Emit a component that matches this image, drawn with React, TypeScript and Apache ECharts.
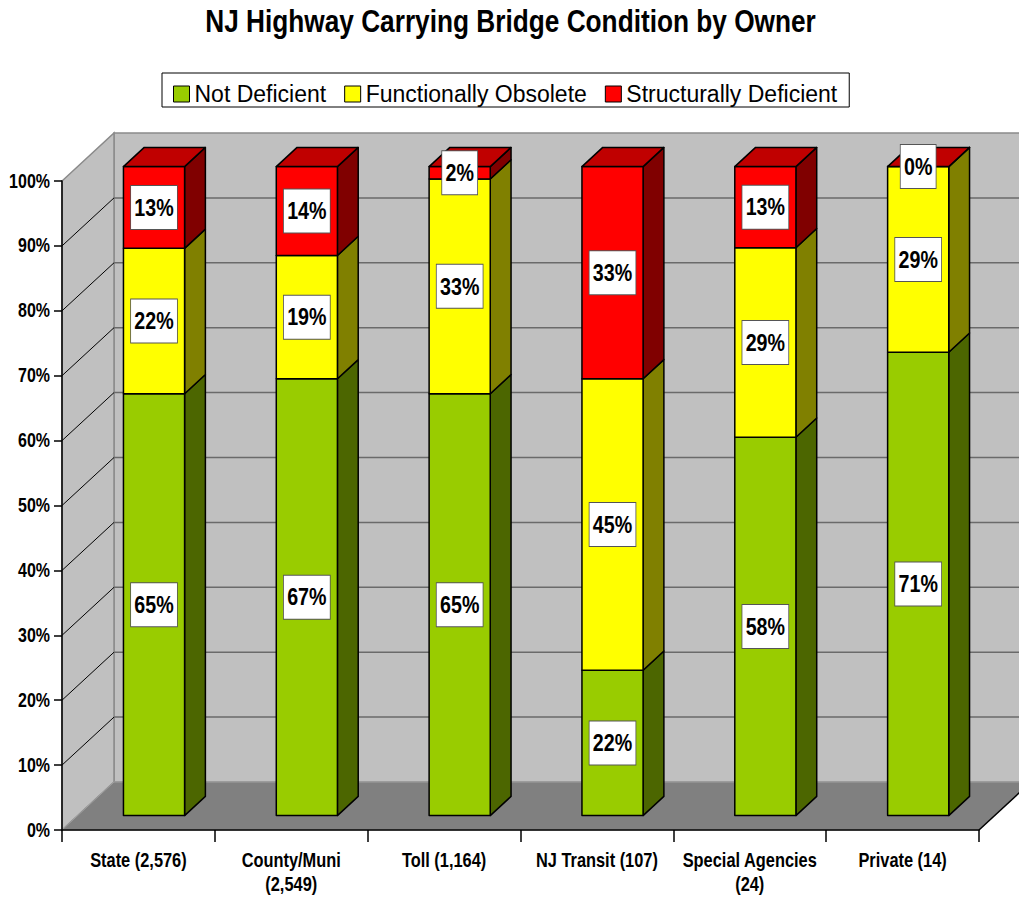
import React, { useEffect, useRef } from "react";
import * as echarts from "echarts";

const categories = [
  "State (2,576)",
  "County/Muni\n(2,549)",
  "Toll (1,164)",
  "NJ Transit (107)",
  "Special Agencies\n(24)",
  "Private (14)",
];
const seriesNames = ["Not Deficient", "Functionally Obsolete", "Structurally Deficient"];
const notDeficient = [65.0, 67.3, 65.0, 22.4, 58.3, 71.4];
const functionallyObsolete = [22.4, 19.0, 33.1, 44.9, 29.2, 28.6];
const structurallyDeficient = [12.6, 13.7, 1.9, 32.7, 12.5, 0];
const yTicks = [0, 10, 20, 30, 40, 50, 60, 70, 80, 90, 100];
const titleText = "NJ Highway Carrying Bridge Condition by Owner";

const FRONT = ["#99cc00", "#ffff00", "#ff0000"];
const SIDE = ["#4c6600", "#808000", "#800000"];
const TOP = ["#73990a", "#c0c000", "#c00000"];

const FONT = "'Liberation Sans', Arial, Helvetica, sans-serif";
const NARROW_SCALE = 0.82;

const DX = 52;
const DY = -48;
const F0 = 0.3;
const F1 = 0.7;
const BAR_RATIO = 0.4;

export default function App() {
  const ref = useRef<HTMLDivElement>(null);
  useEffect(() => {
    if (!ref.current) return;
    const chart = echarts.init(ref.current, null, { renderer: "svg" });
    const all = [notDeficient, functionallyObsolete, structurallyDeficient];

    const barSeries = all.map((vals, si) => ({
      type: "custom",
      name: seriesNames[si],
      z: 3 + si,
      itemStyle: { color: FRONT[si] },
      data: vals.map((v, ci) => {
        let base = 0;
        for (let k = 0; k < si; k++) base += all[k][ci];
        return [ci, v, base];
      }),
      renderItem: (params: any, api: any) => {
        const ci = api.value(0);
        const v = api.value(1);
        const base = api.value(2);
        const p0 = api.coord([ci, base]);
        const p1 = api.coord([ci, base + v]);
        const band = api.size([1, 0])[0];
        const w = band * BAR_RATIO;
        const fx = DX * F0, fy = DY * F0;
        const bx = DX * (F1 - F0), by = DY * (F1 - F0);
        const xl = p0[0] - w / 2 + fx;
        const xr = p0[0] + w / 2 + fx;
        const yb = p0[1] + fy;
        const yt = p1[1] + fy;
        const stroke = { stroke: "#000", lineWidth: 1.5, lineJoin: "round" };
        const children: any[] = [
          {
            type: "polygon",
            shape: { points: [[xr, yb], [xr + bx, yb + by], [xr + bx, yt + by], [xr, yt]] },
            style: { fill: SIDE[si], ...stroke },
          },
          {
            type: "polygon",
            shape: { points: [[xl, yb], [xr, yb], [xr, yt], [xl, yt]] },
            style: { fill: FRONT[si], ...stroke },
          },
        ];
        if (si === all.length - 1) {
          children.push({
            type: "polygon",
            shape: { points: [[xl, yt], [xr, yt], [xr + bx, yt + by], [xl + bx, yt + by]] },
            style: { fill: TOP[si], ...stroke },
          });
        }
        children.push({
          type: "text",
          z2: 10,
          x: (xl + xr) / 2,
          y: (yb + yt) / 2,
          scaleX: NARROW_SCALE,
          style: {
            text: Math.round(v) + "%",
            x: 0,
            y: 0,
            align: "center",
            verticalAlign: "middle",
            font: "bold 24px " + FONT,
            fill: "#000",
            backgroundColor: "#fff",
            borderColor: "#555",
            borderWidth: 1,
            lineHeight: 25,
            padding: [9, 4, 9, 4],
          },
        });
        return { type: "group", children };
      },
    }));

    const wallSeries = {
      type: "custom",
      name: "walls",
      z: 1,
      silent: true,
      data: [[0, 0]],
      renderItem: (params: any, api: any) => {
        const band = api.size([1, 0])[0];
        const xL = api.coord([0, 0])[0] - band / 2;
        const xR = api.coord([categories.length - 1, 0])[0] + band / 2;
        const y0 = api.coord([0, 0])[1];
        const y100 = api.coord([0, 100])[1];
        const children: any[] = [
          {
            type: "polygon",
            shape: { points: [[xL + DX, y100 + DY], [xR + DX, y100 + DY], [xR + DX, y0 + DY], [xL + DX, y0 + DY]] },
            style: { fill: "#c0c0c0", stroke: "#8a8a8a", lineWidth: 1.5 },
          },
          {
            type: "polygon",
            shape: { points: [[xL, y0], [xL, y100], [xL + DX, y100 + DY], [xL + DX, y0 + DY]] },
            style: { fill: "#c0c0c0", stroke: "#8a8a8a", lineWidth: 1.5 },
          },
          {
            type: "polygon",
            shape: { points: [[xL, y0], [xR, y0], [xR + DX, y0 + DY], [xL + DX, y0 + DY]] },
            style: { fill: "#808080", stroke: "#a0a0a0", lineWidth: 1 },
          },
          {
            type: "line",
            shape: { x1: xR, y1: y0, x2: xR + DX, y2: y0 + DY },
            style: { stroke: "#000", lineWidth: 1.5 },
          },
        ];
        yTicks.forEach((t) => {
          const y = api.coord([0, t])[1];
          children.push({
            type: "text",
            x: xL - 12,
            y: y,
            scaleX: NARROW_SCALE,
            style: {
              text: t + "%",
              x: 0,
              y: 0,
              align: "right",
              verticalAlign: "middle",
              font: "bold 19.5px " + FONT,
              fill: "#000",
            },
          });
          if (t === 0 || t === 100) return;
          children.push({
            type: "line",
            shape: { x1: xL + DX, y1: y + DY, x2: xR + DX, y2: y + DY },
            style: { stroke: "#6a6a6a", lineWidth: 1.5 },
          });
          children.push({
            type: "line",
            shape: { x1: xL, y1: y, x2: xL + DX, y2: y + DY },
            style: { stroke: "#000", lineWidth: 1 },
          });
        });
        categories.forEach((c, ci) => {
          const p = api.coord([ci, 0]);
          children.push({
            type: "text",
            x: p[0],
            y: p[1] + 18,
            scaleX: NARROW_SCALE,
            style: {
              text: c,
              x: 0,
              y: 0,
              align: "center",
              verticalAlign: "top",
              font: "bold 20px " + FONT,
              lineHeight: 24,
              fill: "#000",
            },
          });
        });
        return { type: "group", children };
      },
    };

    chart.setOption({
      animation: false,
      backgroundColor: "#fff",
      graphic: [
        {
          type: "text",
          x: 510.5,
          y: 21.5,
          scaleX: NARROW_SCALE,
          style: {
            text: titleText,
            x: 0,
            y: 0,
            align: "center",
            verticalAlign: "middle",
            font: "bold 32px " + FONT,
            fill: "#000",
          },
        },
      ],
      legend: {
        data: seriesNames,
        left: 162,
        top: 73,
        icon: "rect",
        itemWidth: 16,
        itemHeight: 16,
        itemGap: 18,
        borderColor: "#000",
        borderWidth: 1,
        padding: [9, 12, 1, 11],
        itemStyle: { borderColor: "#000", borderWidth: 1 },
        textStyle: { fontFamily: FONT, fontSize: 23, color: "#000", lineHeight: 24 },
      },
      grid: { left: 62, right: 40, top: 181, bottom: 67, containLabel: false },
      xAxis: {
        type: "category",
        data: categories,
        z: 10,
        axisLine: { lineStyle: { color: "#000", width: 1.5 } },
        axisTick: { show: true, length: 12, lineStyle: { color: "#000", width: 1.5 } },
        axisLabel: { show: false },
        splitLine: { show: false },
      },
      yAxis: {
        type: "value",
        min: 0,
        max: 100,
        interval: 10,
        z: 10,
        axisLine: { show: true, lineStyle: { color: "#000", width: 1.5 } },
        axisTick: { show: true, length: 8, lineStyle: { color: "#000", width: 1.5 } },
        axisLabel: { show: false },
        splitLine: { show: false },
      },
      series: [wallSeries, ...barSeries],
    });
    return () => chart.dispose();
  }, []);
  return (
    <div
      ref={ref}
      style={{ position: "fixed", left: 0, top: 0, width: 1019, height: 897 }}
    />
  );
}
